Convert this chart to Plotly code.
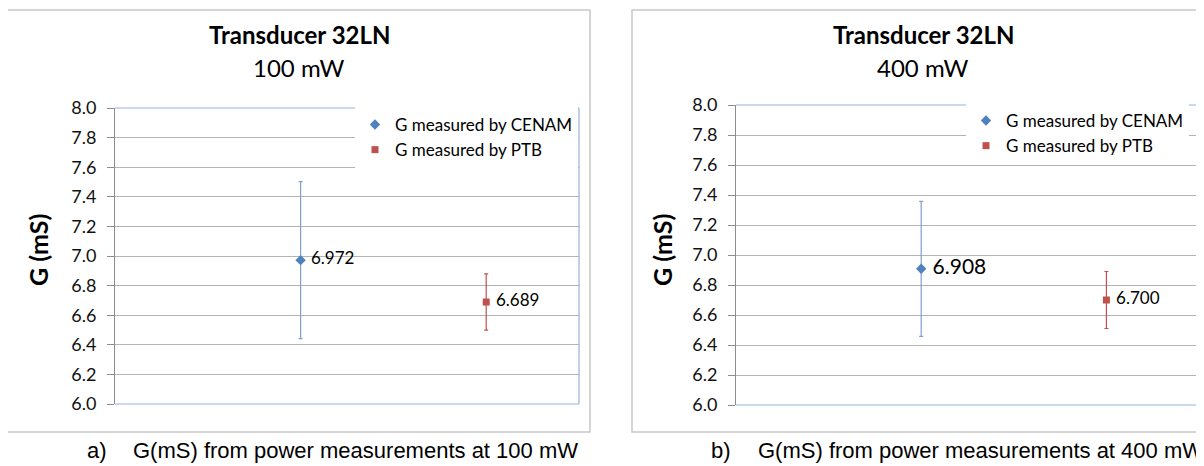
import plotly.graph_objects as go

# ---- data ----
series_names = ["G measured by CENAM", "G measured by PTB"]
x_pos = [1, 2]
g_100 = [6.972, 6.689]
err_100 = [0.53, 0.19]
g_400 = [6.908, 6.700]
err_400 = [0.45, 0.19]
y_ticks = [6.0, 6.2, 6.4, 6.6, 6.8, 7.0, 7.2, 7.4, 7.6, 7.8, 8.0]
titles = ["Transducer 32LN", "Transducer 32LN"]
subtitles = ["100 mW", "400 mW"]
captions = ["G(mS) from power measurements at 100 mW", "G(mS) from power measurements at 400 mW"]
caption_letters = ["a)", "b)"]

W, H = 1204, 466
OFF = 8  # page body margin compensation
FONT = "Lato, Noto Sans, sans-serif"
NARROW = "Liberation Sans, Arial, sans-serif"
colors = ["#4f81bd", "#c0504d"]
err_colors = ["#7f9fcf", "#c0504d"]
symbols = ["diamond", "square"]
msizes = [8, 7]

def px(x):
    return (x - OFF) / W

def py(y):
    return 1 - (y - OFF) / H

fig = go.Figure()

panels = [
    dict(vals=g_100, errs=err_100, xa="x", ya="y", legend="legend",
         lab_sizes=[17, 17], xdom=[px(115), px(579)], ydom=[py(404), py(108)],
         box=[7, 590], cx=299, ytitle_x=38),
    dict(vals=g_400, errs=err_400, xa="x2", ya="y2", legend="legend2",
         lab_sizes=[21, 17], xdom=[px(736), px(1199)], ydom=[py(405), py(105)],
         box=[632, 1240], cx=923, ytitle_x=662),
]

for p in panels:
    for i in range(2):
        fig.add_trace(go.Scatter(
            x=[x_pos[i]], y=[p["vals"][i]],
            mode="markers+text",
            name=series_names[i],
            text=[f" {p['vals'][i]:.3f}"],
            textposition="middle right",
            textfont=dict(family=FONT, size=p["lab_sizes"][i], color="#000000"),
            marker=dict(symbol=symbols[i], size=msizes[i], color=colors[i]),
            error_y=dict(type="data", array=[p["errs"][i]], visible=True,
                         color=err_colors[i], thickness=1.2, width=2),
            xaxis=p["xa"], yaxis=p["ya"], legend=p["legend"],
            cliponaxis=False,
        ))

axis_common_x = dict(range=[0, 2.5], showgrid=False, zeroline=False,
                     showticklabels=False, showline=False, ticks="",
                     automargin=False)
axis_common_y = dict(range=[6, 8], tickvals=y_ticks, tickformat=".1f",
                     showgrid=True, gridcolor="#b4b4b4", gridwidth=1,
                     zeroline=False, showline=True, linecolor="#8c8c8c",
                     ticks="outside", ticklen=7, tickcolor="#8c8c8c",
                     ticklabelstandoff=7, automargin=False,
                     tickfont=dict(family=FONT, size=18, color="#111111"))

legend_common = dict(xanchor="left", yanchor="top", bgcolor="white",
                     borderwidth=0, itemwidth=30, tracegroupgap=0,
                     font=dict(family=FONT, size=17, color="#000000"))

fig.update_layout(
    template="none",
    width=W, height=H,
    margin=dict(l=0, r=0, t=0, b=0, pad=0, autoexpand=False),
    paper_bgcolor="white", plot_bgcolor="white",
    xaxis=dict(domain=panels[0]["xdom"], anchor="y", **axis_common_x),
    yaxis=dict(domain=panels[0]["ydom"], anchor="x", **axis_common_y),
    xaxis2=dict(domain=panels[1]["xdom"], anchor="y2", **axis_common_x),
    yaxis2=dict(domain=panels[1]["ydom"], anchor="x2", **axis_common_y),
    legend=dict(x=px(355), y=py(107), **legend_common),
    legend2=dict(x=px(966), y=py(103), **legend_common),
    showlegend=True,
)

shapes = []
annotations = []
frame_sides = [(0, 1, 1, 1), (1, 0, 1, 1), (0, 0, 1, 0)]  # top, right, bottom
for k, p in enumerate(panels):
    # outer chart border
    shapes.append(dict(type="rect", xref="paper", yref="paper",
                       x0=px(p["box"][0]), x1=px(p["box"][1]),
                       y0=py(432), y1=py(10),
                       line=dict(color="#c8c8c8", width=1.5), layer="below"))
    # plot area frame (light blue on top, right, bottom)
    for (a0, b0, a1, b1) in frame_sides:
        shapes.append(dict(type="line", xref=p["xa"] + " domain", yref=p["ya"] + " domain",
                           x0=a0, y0=b0, x1=a1, y1=b1,
                           line=dict(color="#95b3d7", width=1.2), layer="above"))
    annotations.append(dict(text="<b>" + titles[k] + "</b>", xref="paper", yref="paper",
                            x=px(p["cx"]), y=py(34), showarrow=False,
                            xanchor="center", yanchor="middle",
                            font=dict(family=FONT, size=24, color="#000000")))
    annotations.append(dict(text=subtitles[k], xref="paper", yref="paper",
                            x=px(p["cx"]), y=py(67), showarrow=False,
                            xanchor="center", yanchor="middle",
                            font=dict(family=FONT, size=24, color="#000000")))
    annotations.append(dict(text="<b>G (mS)</b>", xref="paper", yref="paper",
                            x=px(p["ytitle_x"]), y=py(250), showarrow=False,
                            textangle=-90, xanchor="center", yanchor="middle",
                            font=dict(family=FONT, size=25, color="#000000")))

cap_pos = [(85, 131), (709, 756)]
for k in range(2):
    annotations.append(dict(text=caption_letters[k], xref="paper", yref="paper",
                            x=px(cap_pos[k][0]), y=py(450), showarrow=False,
                            xanchor="left", yanchor="middle",
                            font=dict(family=NARROW, size=22, color="#000000")))
    annotations.append(dict(text=captions[k], xref="paper", yref="paper",
                            x=px(cap_pos[k][1]), y=py(450), showarrow=False,
                            xanchor="left", yanchor="middle",
                            font=dict(family=NARROW, size=22, color="#000000")))

fig.update_layout(shapes=shapes, annotations=annotations)

fig.write_html("out.html")
